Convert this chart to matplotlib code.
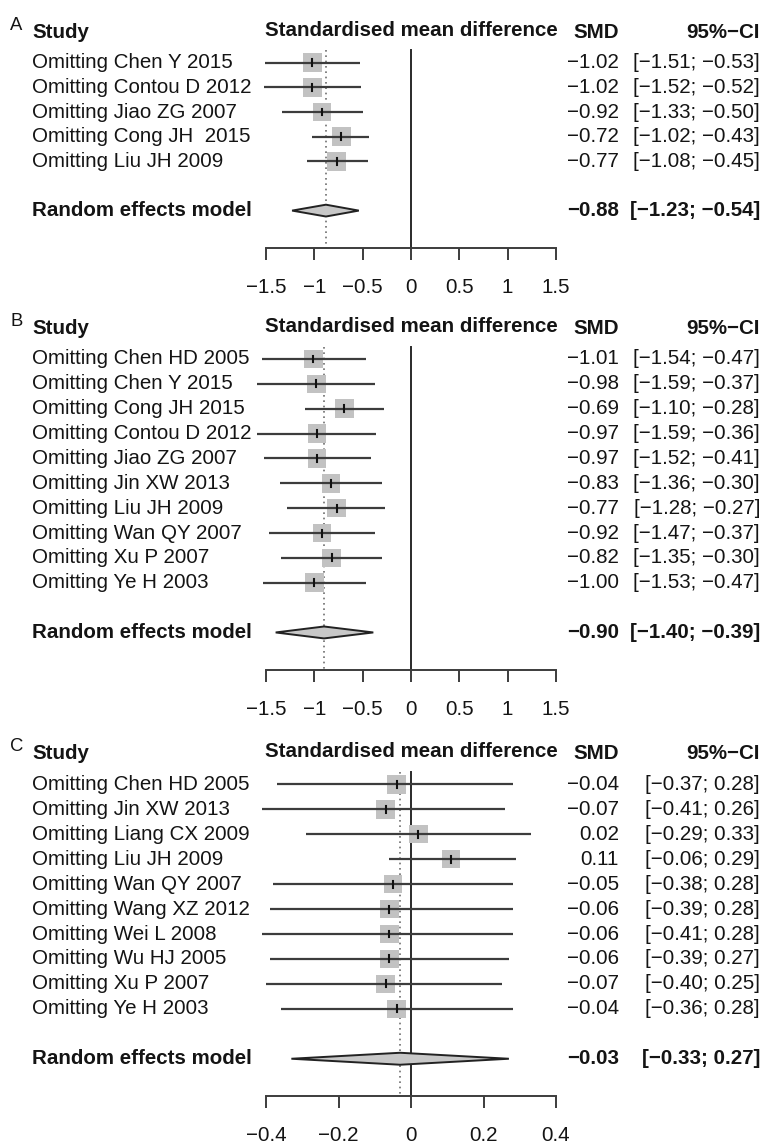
import matplotlib
matplotlib.use("Agg")
import matplotlib.pyplot as plt
import matplotlib.transforms as mtransforms
from matplotlib.patches import Polygon, Rectangle

plt.rcParams['font.family'] = ['Liberation Sans', 'DejaVu Sans']

# ---------------- data ----------------
studies_A = ["Omitting Chen Y 2015", "Omitting Contou D 2012", "Omitting Jiao ZG 2007",
             "Omitting Cong JH  2015", "Omitting Liu JH 2009"]
smd_A = [-1.02, -1.02, -0.92, -0.72, -0.77]
lo_A = [-1.51, -1.52, -1.33, -1.02, -1.08]
hi_A = [-0.53, -0.52, -0.50, -0.43, -0.45]
re_A = [-0.88, -1.23, -0.54]
ticks_A = [-1.5, -1, -0.5, 0, 0.5, 1, 1.5]
ticklabels_A = ["\u22121.5", "\u22121", "\u22120.5", "0", "0.5", "1", "1.5"]

studies_B = ["Omitting Chen HD 2005", "Omitting Chen Y 2015", "Omitting Cong JH 2015",
             "Omitting Contou D 2012", "Omitting Jiao ZG 2007", "Omitting Jin XW 2013",
             "Omitting Liu JH 2009", "Omitting Wan QY 2007", "Omitting Xu P 2007",
             "Omitting Ye H 2003"]
smd_B = [-1.01, -0.98, -0.69, -0.97, -0.97, -0.83, -0.77, -0.92, -0.82, -1.00]
lo_B = [-1.54, -1.59, -1.10, -1.59, -1.52, -1.36, -1.28, -1.47, -1.35, -1.53]
hi_B = [-0.47, -0.37, -0.28, -0.36, -0.41, -0.30, -0.27, -0.37, -0.30, -0.47]
re_B = [-0.90, -1.40, -0.39]
ticks_B = ticks_A
ticklabels_B = ticklabels_A

studies_C = ["Omitting Chen HD 2005", "Omitting Jin XW 2013", "Omitting Liang CX 2009",
             "Omitting Liu JH 2009", "Omitting Wan QY 2007", "Omitting Wang XZ 2012",
             "Omitting Wei L 2008", "Omitting Wu HJ 2005", "Omitting Xu P 2007",
             "Omitting Ye H 2003"]
smd_C = [-0.04, -0.07, 0.02, 0.11, -0.05, -0.06, -0.06, -0.06, -0.07, -0.04]
lo_C = [-0.37, -0.41, -0.29, -0.06, -0.38, -0.39, -0.41, -0.39, -0.40, -0.36]
hi_C = [0.28, 0.26, 0.33, 0.29, 0.28, 0.28, 0.28, 0.27, 0.25, 0.28]
re_C = [-0.03, -0.33, 0.27]
ticks_C = [-0.4, -0.2, 0, 0.2, 0.4]
ticklabels_C = ["\u22120.4", "\u22120.2", "0", "0.2", "0.4"]

# ---------------- layout ----------------
W, H, DPI = 764, 1144, 100
fig = plt.figure(figsize=(W / DPI, H / DPI), dpi=DPI)
FS = 14.8
X_LEFT, X_RIGHT = 266, 556
X_LETTER, X_LABEL, X_SMD, X_CI = 10, 32, 619, 760
SQ_PX = 18.5
LINE_C = "#3c3c3c"
TXT_C = "#141414"


def fmt(v):
    s = f"{v:.2f}"
    return s.replace("-", "\u2212")


def panel(letter, studies, smd, lo, hi, re, ticks, ticklabels, y0, s):
    n = len(studies)
    axis_row = n + 2.5
    top_row = -1.5
    top_px = y0 + top_row * s
    bot_px = y0 + axis_row * s
    ax = fig.add_axes([X_LEFT / W, 1 - bot_px / H, (X_RIGHT - X_LEFT) / W, (bot_px - top_px) / H])
    ax.set_xlim(ticks[0], ticks[-1])
    ax.set_ylim(axis_row, top_row)
    ax.patch.set_alpha(0)
    for sp in ("top", "left", "right"):
        ax.spines[sp].set_visible(False)
    ax.spines["bottom"].set_color(LINE_C)
    ax.spines["bottom"].set_linewidth(1.4)
    ax.set_yticks([])
    ax.set_xticks(ticks)
    ax.set_xticklabels(ticklabels, fontsize=FS, color=TXT_C)
    ax.tick_params(axis="x", direction="out", length=8.6, width=1.4, color=LINE_C, pad=13)

    # unit conversions
    px_per_x = (X_RIGHT - X_LEFT) / (ticks[-1] - ticks[0])
    sq_w = SQ_PX / px_per_x
    sq_h = SQ_PX / s

    # reference lines
    ax.plot([0, 0], [-0.5, axis_row], color="#2a2a2a", lw=1.4, clip_on=False, zorder=1)
    ax.plot([re[0], re[0]], [-0.5, axis_row], color="#6e6e6e", lw=1.2,
            linestyle=(0, (1, 2.2)), clip_on=False, zorder=1)

    for i in range(n):
        ax.add_patch(Rectangle((smd[i] - sq_w / 2, i - sq_h / 2), sq_w, sq_h,
                               facecolor="#c2c2c2", edgecolor="none", zorder=2, clip_on=False))
        ax.plot([lo[i], hi[i]], [i, i], color=LINE_C, lw=1.6, zorder=3, clip_on=False,
                solid_capstyle="butt")
        ax.plot([smd[i], smd[i]], [i - 0.14, i + 0.14], color="#111111", lw=1.5, zorder=4,
                clip_on=False)

    r = n + 1
    h = 0.24
    ax.add_patch(Polygon([(re[1], r), (re[0], r - h), (re[2], r), (re[0], r + h)],
                         closed=True, facecolor="#c8c8c8", edgecolor="#222222", lw=1.4,
                         zorder=3, clip_on=False))

    tr = mtransforms.blended_transform_factory(fig.transFigure, ax.transData)
    fx = lambda px: px / W
    hdr = -1.22
    ax.text(fx(X_LETTER), hdr - 0.3, letter, transform=tr, fontsize=FS - 1.5, ha="left",
            va="center", color=TXT_C)
    ax.text(fx(X_LABEL), hdr, "Study", transform=tr, fontsize=FS, fontweight="bold",
            ha="left", va="center", color=TXT_C)
    ax.text(fx((X_LEFT + X_RIGHT) / 2), hdr - 0.1, "Standardised mean difference", transform=tr,
            fontsize=FS, fontweight="bold", ha="center", va="center", color=TXT_C)
    ax.text(fx(X_SMD), hdr, "SMD", transform=tr, fontsize=FS, fontweight="bold",
            ha="right", va="center", color=TXT_C)
    ax.text(fx(X_CI), hdr, "95%\u2212CI", transform=tr, fontsize=FS, fontweight="bold",
            ha="right", va="center", color=TXT_C)
    for i in range(n):
        ax.text(fx(X_LABEL), i, studies[i], transform=tr, fontsize=FS, ha="left",
                va="center", color=TXT_C)
        ax.text(fx(X_SMD), i, fmt(smd[i]), transform=tr, fontsize=FS, ha="right",
                va="center", color=TXT_C)
        ax.text(fx(X_CI), i, f"[{fmt(lo[i])}; {fmt(hi[i])}]", transform=tr, fontsize=FS,
                ha="right", va="center", color=TXT_C)
    ax.text(fx(X_LABEL), r, "Random effects model", transform=tr, fontsize=FS,
            fontweight="bold", ha="left", va="center", color=TXT_C)
    ax.text(fx(X_SMD), r, fmt(re[0]), transform=tr, fontsize=FS, fontweight="bold",
            ha="right", va="center", color=TXT_C)
    ax.text(fx(X_CI), r, f"[{fmt(re[1])}; {fmt(re[2])}]", transform=tr, fontsize=FS,
            fontweight="bold", ha="right", va="center", color=TXT_C)
    return ax


panel("A", studies_A, smd_A, lo_A, hi_A, re_A, ticks_A, ticklabels_A, 62.7, 24.65)
panel("B", studies_B, smd_B, lo_B, hi_B, re_B, ticks_B, ticklabels_B, 359.0, 24.86)
panel("C", studies_C, smd_C, lo_C, hi_C, re_C, ticks_C, ticklabels_C, 784.3, 24.95)

fig.savefig("out.png", dpi=DPI, facecolor="white")
